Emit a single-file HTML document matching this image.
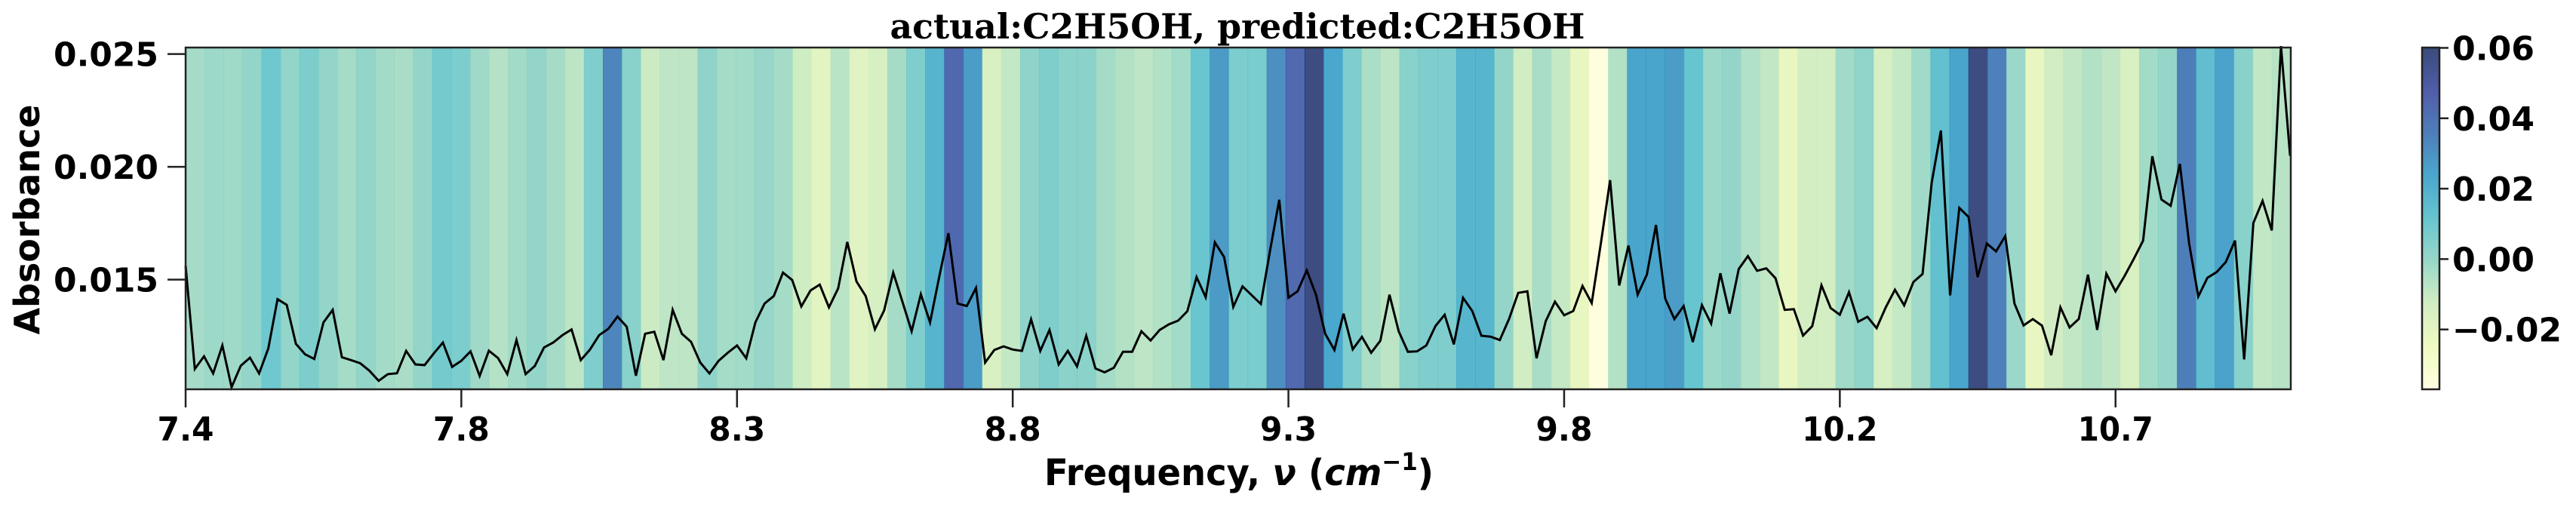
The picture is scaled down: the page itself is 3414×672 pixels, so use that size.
<!DOCTYPE html>
<html><head><meta charset="utf-8"><title>actual:C2H5OH, predicted:C2H5OH</title>
<style>
html,body{margin:0;padding:0;background:#fff;}
svg{display:block;}
.tk{font-family:"DejaVu Sans","Liberation Sans",sans-serif;font-weight:bold;font-size:44px;fill:#000;}
</style></head>
<body>
<svg id="chart" xmlns="http://www.w3.org/2000/svg" width="3414" height="672" viewBox="0 0 3414 672">
  <text x="1640" y="51" text-anchor="middle" font-family="'DejaVu Serif','Liberation Serif',serif" font-weight="bold" font-size="46" textLength="921" lengthAdjust="spacingAndGlyphs">actual:C2H5OH, predicted:C2H5OH</text>
  <g id="stripes"></g>
  <g id="lineg"></g>
  <rect x="246" y="63" width="2790" height="453" fill="none" stroke="#222" stroke-width="2.5"/>
  <g id="yaxis"></g>
  <g id="xaxis"></g>
  <text transform="translate(52,291) rotate(-90)" text-anchor="middle" font-family="'DejaVu Sans','Liberation Sans',sans-serif" font-weight="bold" font-size="46" textLength="305" lengthAdjust="spacingAndGlyphs">Absorbance</text>
  <text x="1384" y="643" font-family="'DejaVu Sans','Liberation Sans',sans-serif" font-weight="bold" font-size="48" textLength="516" lengthAdjust="spacingAndGlyphs">Frequency, <tspan font-style="italic">ν</tspan> (<tspan font-style="italic">cm</tspan><tspan font-size="32" dy="-20">−1</tspan><tspan dy="20">)</tspan></text>
  <defs><linearGradient id="cbgrad" x1="0" y1="1" x2="0" y2="0"></linearGradient></defs>
  <g id="colorbar"></g>
</svg>
<script>
// ---- data ----
const absorbance = [
.01561,.01104,.01160,.01084,.01208,.01023,.01118,.01154,.01084,.01195,
.01413,.01388,.01215,.01169,.01148,.01310,.01366,.01156,.01143,.01129,
.01096,.01051,.01081,.01085,.01184,.01124,.01121,.01173,.01221,.01113,
.01140,.01182,.01073,.01185,.01152,.01081,.01232,.01081,.01117,.01199,
.01221,.01254,.01279,.01143,.01190,.01254,.01282,.01336,.01291,.01074,
.01260,.01269,.01143,.01366,.01260,.01224,.01132,.01084,.01140,.01176,
.01208,.01151,.01310,.01394,.01427,.01531,.01498,.01381,.01452,.01478,
.01377,.01461,.01667,.01492,.01427,.01280,.01363,.01531,.01402,.01271,
.01435,.01310,.01511,.01706,.01394,.01383,.01463,.01132,.01188,.01204,
.01190,.01184,.01324,.01184,.01277,.01124,.01184,.01115,.01251,.01106,
.01089,.01109,.01180,.01180,.01271,.01230,.01277,.01302,.01318,.01360,
.01511,.01422,.01665,.01600,.01379,.01470,.01431,.01392,.01628,.01854,
.01420,.01448,.01541,.01433,.01260,.01188,.01349,.01191,.01246,.01176,
.01229,.01433,.01271,.01180,.01182,.01208,.01294,.01344,.01213,.01419,
.01361,.01251,.01247,.01232,.01325,.01441,.01448,.01151,.01316,.01402,
.01342,.01361,.01472,.01396,.01662,.01941,.01474,.01651,.01433,.01522,
.01742,.01416,.01325,.01383,.01223,.01387,.01305,.01528,.01349,.01547,
.01604,.01539,.01550,.01506,.01366,.01369,.01252,.01294,.01475,.01374,
.01344,.01444,.01313,.01335,.01285,.01377,.01455,.01386,.01489,.01525,
.01930,.02161,.01430,.01818,.01778,.01511,.01660,.01625,.01693,.01394,
.01297,.01325,.01296,.01165,.01377,.01288,.01325,.01522,.01277,.01526,
.01448,.01517,.01593,.01673,.02047,.01855,.01827,.02013,.01662,.01425,
.01508,.01533,.01578,.01673,.01146,.01751,.01849,.01718,.02535,.02049
];
const stripeValues = [
-0.0034,-0.0015,-0.0019,0.0006,0.0096,0.0008,0.0062,0.0008,-0.0032,0.0006,
-0.0029,-0.0040,0.0008,0.0081,0.0064,-0.0021,-0.0066,-0.0026,0.0008,-0.0034,
-0.0083,0.0057,0.0334,0.0034,-0.0113,-0.0085,-0.0085,0.0018,-0.0032,-0.0026,
-0.0003,-0.0032,-0.0121,-0.0191,-0.0074,-0.0186,-0.0143,-0.0034,0.0057,0.0186,
0.0438,0.0270,-0.0157,-0.0095,0.0018,0.0054,0.0028,0.0028,-0.0032,-0.0060,
-0.0085,-0.0057,-0.0026,0.0110,0.0275,0.0064,0.0067,0.0309,0.0435,0.0581,
0.0236,0.0057,-0.0044,-0.0083,0.0034,0.0057,0.0057,0.0178,0.0178,0.0003,
-0.0123,-0.0040,-0.0098,-0.0215,-0.0360,-0.0062,0.0241,0.0241,0.0270,0.0115,
-0.0015,0.0003,-0.0057,-0.0094,-0.0215,-0.0132,-0.0132,-0.0024,0.0013,-0.0142,
-0.0098,-0.0024,0.0134,0.0241,0.0581,0.0348,-0.0011,-0.0215,-0.0128,-0.0094,
-0.0060,-0.0089,-0.0152,-0.0026,0.0002,0.0358,0.0144,0.0251,0.0034,-0.0094,
-0.0072
];
const xTickIndex = [0,30,60,90,120,150,180,210];
const xTickLabels = ["7.4","7.8","8.3","8.8","9.3","9.8","10.2","10.7"];
const yTicks = [0.015,0.020,0.025];
const yTickLabels = ["0.015","0.020","0.025"];
const cbTicks = [-0.02,0.00,0.02,0.04,0.06];
const cbTickLabels = ["−0.02","0.00","0.02","0.04","0.06"];

// ---- scales ----
const PL=246, PR=3036, PT=63, PB=516;
const X_MAX = 229.07, Y_MIN=0.010137, Y_MAX=0.025288, C_MIN=-0.037, C_MAX=0.0601;
const xs = i => PL + (i/X_MAX)*(PR-PL);
const ys = v => PB - (v-Y_MIN)/(Y_MAX-Y_MIN)*(PB-PT);
const cs = v => PB - (v-C_MIN)/(C_MAX-C_MIN)*(PB-PT);
const stops=[[255,255,217],[237,248,177],[199,233,180],[127,205,187],[65,182,196],[29,145,192],[34,94,168],[37,52,148],[8,29,88]];
function cmap(v){
  let t=(v-C_MIN)/(C_MAX-C_MIN); t=Math.max(0,Math.min(1,t));
  const p=t*8, i=Math.min(7,Math.floor(p)), f=p-i;
  const c=stops[i].map((a,k)=>a+(stops[i+1][k]-a)*f);
  return 'rgb('+c.map(a=>Math.round(a)).join(',')+')';
}
const NS='http://www.w3.org/2000/svg';
function mk(tag,attrs,parent){const e=document.createElementNS(NS,tag);for(const k in attrs)e.setAttribute(k,attrs[k]);parent.appendChild(e);return e;}

// stripes
const sg=document.getElementById('stripes');
const sw=(PR-PL)/stripeValues.length;
stripeValues.forEach((v,k)=>{
  const r=mk('rect',{x:(PL+k*sw).toFixed(2),y:PT,width:(sw+0.6).toFixed(2),height:PB-PT,fill:cmap(v),'fill-opacity':0.8},sg);
  
  
});
// line
const lg=document.getElementById('lineg');
const pts=absorbance.map((v,i)=>xs(i).toFixed(1)+','+ys(v).toFixed(1)).join(' ');
const pl=mk('polyline',{points:pts,fill:'none',stroke:'#000','stroke-width':3,'stroke-linejoin':'miter'},lg);


// y axis
const ya=document.getElementById('yaxis');
yTicks.forEach((v,i)=>{
  const y=ys(v);
  const l=mk('line',{x1:PL-24,x2:PL,y1:y,y2:y,stroke:'#222','stroke-width':2.5},ya);
  
  
  const t=mk('text',{x:210,y:y+16,'text-anchor':'end',class:'tk',textLength:139,lengthAdjust:'spacingAndGlyphs'},ya);
  t.textContent=yTickLabels[i];
  
  
});
// x axis
const xa=document.getElementById('xaxis');
xTickIndex.forEach((idx,i)=>{
  const x=xs(idx);
  const l=mk('line',{x1:x,x2:x,y1:PB,y2:PB+24,stroke:'#222','stroke-width':2.5},xa);
  
  
  const lab=xTickLabels[i];
  const t=mk('text',{x:x,y:584,'text-anchor':'middle',class:'tk',textLength:lab.length*25,lengthAdjust:'spacingAndGlyphs'},xa);
  t.textContent=lab;
  
  
});
// colorbar
const grad=document.getElementById('cbgrad');
for(let s=0;s<=40;s++){
  const v=C_MIN+(C_MAX-C_MIN)*s/40;
  mk('stop',{offset:(s/40).toFixed(3),'stop-color':cmap(v),'stop-opacity':0.8},grad);
}
const cb=document.getElementById('colorbar');
const cr=mk('rect',{x:3210,y:PT,width:23,height:PB-PT,fill:'url(#cbgrad)',stroke:'#222','stroke-width':2.5},cb);


cbTicks.forEach((v,i)=>{
  const y=cs(v);
  const l=mk('line',{x1:3233,x2:3245,y1:y,y2:y,stroke:'#222','stroke-width':2.5},cb);
  
  
  const lab=cbTickLabels[i];
  const t=mk('text',{x:3250,y:y+16,class:'tk',textLength:lab.length===5?145:109,lengthAdjust:'spacingAndGlyphs'},cb);
  t.textContent=lab;
  
  
});
</script>
</body></html>
